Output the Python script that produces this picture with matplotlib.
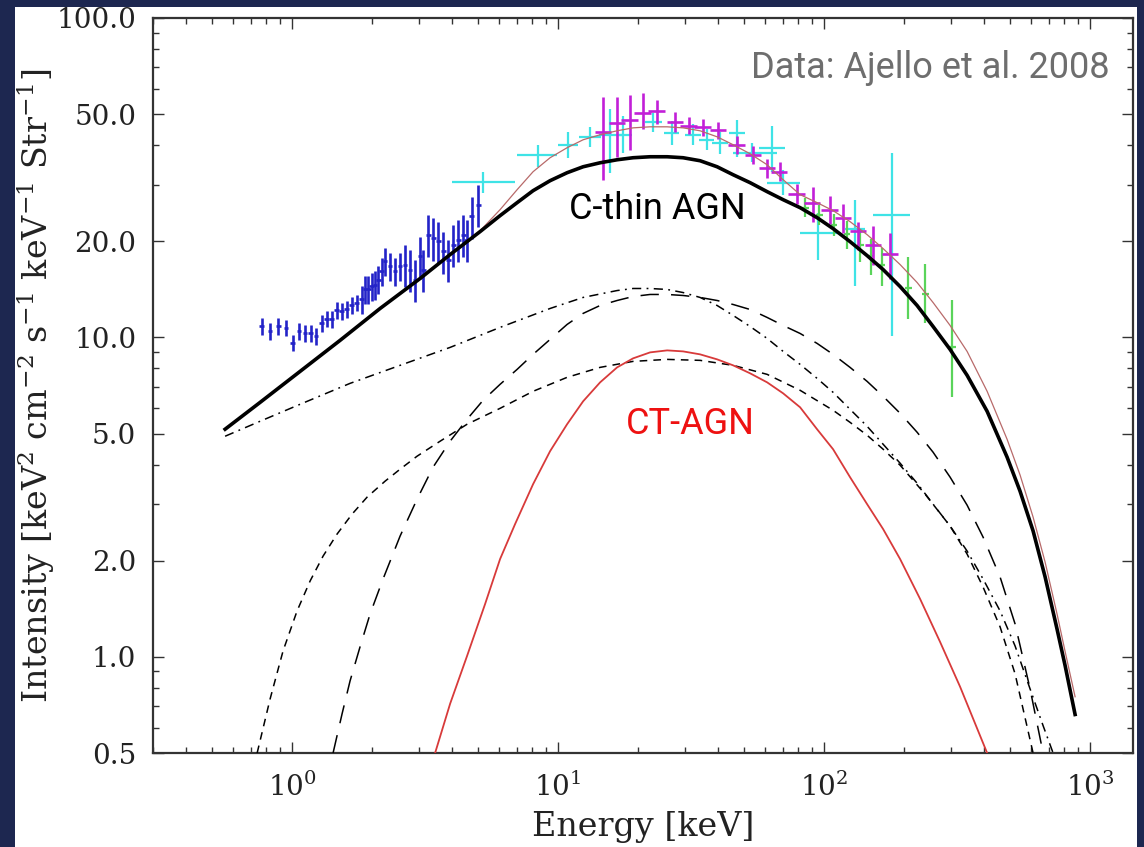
import matplotlib
matplotlib.use("Agg")
import matplotlib.pyplot as plt
from matplotlib.patches import Rectangle
from matplotlib.ticker import FixedLocator, LogLocator, FuncFormatter, NullFormatter

# ---- model curves (energy keV, intensity) ----
# total Compton-thin AGN (thick black)
tot_E = [0.560, 0.758, 1.072, 1.515, 2.142, 3.028, 3.927, 5.090, 6.053, 7.015, 8.054, 9.331, 10.81, 12.42, 14.39,
         16.67, 19.14, 22.18, 25.70, 29.51, 34.19, 39.61, 45.50, 52.71, 61.07, 70.15, 81.26, 94.13, 108.1, 125.2,
         145.1, 166.7, 193.1, 223.7, 256.9, 297.7, 344.9, 410.2, 487.5, 545.5, 610.5, 677.5, 751.6, 805.4, 878.3]
tot_I = [5.16, 6.26, 7.83, 9.79, 12.32, 15.29, 18.17, 21.44, 24.06, 26.42, 28.80, 30.95, 32.78, 34.22, 35.22,
         35.99, 36.52, 36.78, 36.78, 36.52, 35.74, 34.22, 32.31, 30.51, 28.60, 26.99, 25.48, 23.71, 21.91, 19.95,
         18.04, 16.31, 14.43, 12.59, 10.82, 9.17, 7.61, 5.87, 4.22, 3.30, 2.48, 1.78, 1.22, 0.94, 0.66]

# total model incl. CT-AGN (thin brown)
mod_E = [0.560, 1.072, 2.142, 3.927, 4.549, 5.224, 6.053, 7.015, 8.054, 9.331, 10.81, 12.42, 14.39, 16.67, 19.14,
         22.18, 25.70, 29.51, 34.19, 39.61, 45.50, 52.71, 61.07, 70.15, 81.26, 94.13, 108.1, 125.2, 145.1, 166.7,
         193.1, 223.7, 256.9, 297.7, 344.9, 410.2, 487.5, 545.5, 610.5, 677.5, 751.6, 805.4, 878.3]
mod_I = [5.16, 7.83, 12.32, 18.17, 19.81, 22.07, 25.12, 29.01, 33.02, 36.52, 39.25, 41.57, 43.10, 44.35, 45.30,
         45.64, 45.64, 45.30, 44.35, 42.47, 40.11, 37.58, 34.72, 31.17, 27.99, 26.42, 24.94, 23.04, 20.98, 18.97,
         16.91, 14.86, 12.86, 10.90, 9.04, 6.78, 4.80, 3.71, 2.74, 1.98, 1.36, 1.04, 0.75]

# dash-dot component
dd_E = [0.560, 0.758, 1.072, 1.652, 2.547, 3.927, 6.053, 9.331, 12.42, 16.67, 19.14, 22.18, 25.70, 29.51, 34.19,
        39.61, 45.50, 52.71, 61.07, 70.15, 81.26, 94.13, 108.1, 125.2, 145.1, 166.7, 193.1, 223.7, 256.9, 297.7,
        344.9, 396.0, 458.9, 522.4, 594.8, 665.8, 726.1]
dd_I = [4.905, 5.464, 6.176, 7.181, 8.177, 9.306, 10.75, 12.32, 13.34, 14.02, 14.23, 14.23, 14.13, 13.82, 13.34,
        12.59, 11.72, 10.82, 9.929, 9.042, 8.233, 7.444, 6.732, 5.957, 5.271, 4.631, 4.039, 3.497, 3.007, 2.567,
        2.144, 1.753, 1.392, 1.082, 0.794, 0.609, 0.5]

# long-dash component
ld_E = [1.426, 1.542, 1.652, 1.801, 1.965, 2.198, 2.547, 2.951, 3.389, 3.927, 4.549, 5.224, 6.053, 7.015, 8.054,
        9.331, 10.81, 12.42, 14.39, 16.67, 19.14, 22.18, 25.70, 29.51, 34.19, 39.61, 45.50, 52.71, 61.07, 70.15,
        81.26, 94.13, 108.1, 125.2, 145.1, 166.7, 193.1, 223.7, 256.9, 297.7, 344.9, 396.0, 458.9, 522.4, 594.8,
        665.8]
ld_I = [0.5, 0.664, 0.841, 1.075, 1.363, 1.753, 2.388, 3.117, 3.925, 4.732, 5.544, 6.355, 7.131, 7.943, 8.849,
        9.857, 10.98, 11.89, 12.59, 13.05, 13.43, 13.63, 13.63, 13.53, 13.34, 13.05, 12.68, 12.23, 11.55, 10.90,
        10.29, 9.578, 8.849, 8.058, 7.286, 6.541, 5.788, 5.049, 4.372, 3.652, 2.985, 2.371, 1.778, 1.268, 0.794,
        0.5]

# short-dash component
sd_E = [0.739, 0.827, 0.925, 1.044, 1.169, 1.308, 1.476, 1.681, 1.914, 2.237, 2.547, 2.951, 3.601, 4.549, 6.053,
        8.054, 10.81, 14.39, 19.14, 25.70, 34.19, 45.50, 61.07, 81.26, 108.1, 125.2, 145.1, 166.7, 193.1, 239.8,
        297.7, 344.9, 396.0, 458.9, 522.4, 610.5]
sd_I = [0.5, 0.739, 1.044, 1.392, 1.728, 2.068, 2.423, 2.798, 3.162, 3.548, 3.868, 4.248, 4.732, 5.348, 5.998,
        6.781, 7.499, 8.058, 8.414, 8.535, 8.476, 8.177, 7.663, 6.830, 5.915, 5.422, 4.941, 4.467, 3.981, 3.231,
        2.567, 2.098, 1.654, 1.241, 0.885, 0.5]

# Compton-thick AGN (red)
ct_E = [3.449, 3.927, 4.549, 5.317, 6.053, 6.892, 8.054, 9.331, 10.81, 12.42, 14.39, 16.67, 19.14, 22.18, 25.70,
        29.51, 34.19, 39.61, 45.50, 52.71, 61.07, 70.15, 81.26, 94.13, 108.1, 125.2, 145.1, 166.7, 193.1, 229.6,
        272.9, 324.6, 410.2]
ct_I = [0.5, 0.713, 1.007, 1.464, 2.024, 2.604, 3.472, 4.404, 5.348, 6.310, 7.234, 8.058, 8.599, 8.978, 9.108,
        9.042, 8.851, 8.538, 8.177, 7.720, 7.234, 6.683, 6.043, 5.158, 4.467, 3.652, 3.007, 2.512, 2.024, 1.518,
        1.114, 0.806, 0.5]

# ---- data points ----
blue_E = [0.769, 0.827, 0.888, 0.949, 1.006, 1.062, 1.119, 1.175, 1.231, 1.293, 1.350, 1.410, 1.472, 1.537, 1.605,
          1.676, 1.751, 1.828, 1.881, 1.936, 1.993, 2.051, 2.111, 2.174, 2.237, 2.336, 2.439, 2.547, 2.660, 2.777,
          2.900, 3.028, 3.117, 3.255, 3.399, 3.549, 3.706, 3.870, 4.041, 4.220, 4.407, 4.536, 4.737, 5.018]
blue_I = [10.85, 10.47, 10.85, 10.72, 9.62, 10.47, 10.29, 10.29, 10.10, 11.06, 11.44, 11.38, 12.17, 12.09, 12.23,
          12.59, 12.83, 13.15, 14.13, 14.13, 14.47, 14.64, 15.18, 16.12, 17.32, 16.71, 16.12, 16.71, 16.91, 16.31,
          15.18, 17.96, 16.31, 20.98, 20.49, 20.0, 18.61, 17.53, 19.53, 20.24, 20.98, 20.24, 23.94, 26.04]
blue_err = [0.65, 0.63, 0.65, 0.64, 0.58, 0.63, 0.62, 0.62, 0.61, 0.66, 0.69, 0.68, 0.73, 0.73, 0.73,
            0.76, 0.77, 1.3, 1.4, 1.4, 1.45, 1.5, 1.5, 1.6, 1.75, 1.7, 1.6, 1.7, 2.5, 2.45,
            2.3, 2.7, 2.45, 3.15, 3.1, 3.0, 2.8, 2.6, 2.9, 3.0, 3.15, 3.0, 3.6, 3.9]

cyan_E = [5.23, 8.41, 10.9, 13.2, 15.7, 17.5, 22.8, 26.8, 32.2, 36.3, 40.6, 47.1, 53.6, 63.7, 70.1, 94.9, 131, 180]
cyan_Elo = [4.0, 7.0, 10.0, 12.0, 14.2, 16.5, 21.2, 25.0, 30.0, 34.0, 38.0, 44.0, 45.5, 57.0, 61.0, 81.0, 120, 153]
cyan_Ehi = [6.9, 9.9, 11.9, 14.5, 17.5, 19.0, 24.5, 28.5, 34.5, 38.5, 43.5, 50.5, 66.5, 71.0, 81.0, 114, 143, 211]
cyan_I = [30.7, 37.3, 40.1, 42.5, 43.0, 43.0, 47.3, 43.7, 43.1, 41.6, 40.7, 43.7, 37.9, 39.2, 30.5, 21.3, 21.8, 24.2]
cyan_Ilo = [28.4, 34.2, 36.5, 39.5, 32.7, 37.9, 44.0, 40.0, 40.0, 38.5, 37.5, 36.8, 35.5, 33.0, 28.0, 17.5, 14.5, 10.1]
cyan_Ihi = [33.0, 40.1, 44.0, 45.5, 51.8, 49.2, 50.5, 47.5, 46.5, 45.0, 44.0, 48.0, 40.5, 46.0, 33.5, 24.5, 27.0, 37.9]

mag_E = [14.8, 16.7, 18.6, 20.8, 23.5, 27.5, 31, 35, 40, 47, 54, 61, 68, 79, 90.6, 105, 118, 134, 153, 177]
mag_I = [44, 47, 48, 50.5, 51, 47.3, 46, 45.5, 44.5, 40.1, 37.3, 33.8, 33, 28.2, 26.4, 25.1, 23.7, 21.5, 19.5, 18.2]
mag_Ilo = [31.2, 36.8, 38.6, 44.8, 46.5, 44.0, 43.2, 42.7, 41.8, 37.6, 35.0, 31.6, 30.8, 26.2, 22.9, 22.6, 21.3, 18.8, 16.8, 15.2]
mag_Ihi = [56.5, 56.5, 57.5, 58.3, 55.5, 50.8, 49.0, 48.4, 47.3, 42.7, 39.8, 36.1, 35.3, 30.3, 29.6, 27.7, 26.2, 22.9, 22.3, 21.3]

green_E = [85, 96, 109, 122, 137, 150, 165, 207, 240, 303]
green_I = [25.5, 24.2, 22.5, 21.0, 19.5, 18.0, 16.8, 14.3, 13.7, 9.3]
green_Ilo = [23.8, 22.5, 20.7, 18.9, 17.2, 15.7, 14.5, 11.4, 11.1, 6.5]
green_Ihi = [27.3, 25.9, 24.3, 23.1, 21.8, 20.3, 19.1, 17.9, 17.0, 13.1]

FIG_W, FIG_H, DPI = 11.44, 8.47, 100
plt.rcParams['font.family'] = ['DejaVu Serif']
plt.rcParams['mathtext.fontset'] = 'dejavuserif'

fig = plt.figure(figsize=(FIG_W, FIG_H), dpi=DPI)
fig.patch.set_facecolor('#1d2750')
fig.patches.append(Rectangle((15 / 1144, 0), 1122 / 1144, 840 / 847, transform=fig.transFigure,
                             facecolor='white', edgecolor='none', zorder=-10))

ax = fig.add_axes([153 / 1144, 1 - 753 / 847, 980 / 1144, 735 / 847])
ax.set_zorder(5)
ax.set_xscale('log')
ax.set_yscale('log')
ax.set_xlim(0.30, 1450)
ax.set_ylim(0.5, 100)


def errbar(E, I, lo, hi, xlo, xhi, color, lw):
    yerr = [[i - l for i, l in zip(I, lo)], [h - i for i, h in zip(I, hi)]]
    xerr = [[e - l for e, l in zip(E, xlo)], [h - e for e, h in zip(E, xhi)]]
    ax.errorbar(E, I, yerr=yerr, xerr=xerr, fmt='none', ecolor=color, elinewidth=lw, capsize=0, zorder=2)


errbar(blue_E, blue_I, [i - e for i, e in zip(blue_I, blue_err)], [i + e for i, e in zip(blue_I, blue_err)],
       [e * 0.98 for e in blue_E], [e * 1.02 for e in blue_E], '#2323c8', 1.9)
errbar(cyan_E, cyan_I, cyan_Ilo, cyan_Ihi, cyan_Elo, cyan_Ehi, '#3fe3e6', 1.6)
errbar(green_E, green_I, green_Ilo, green_Ihi, [e * 0.97 for e in green_E], [e * 1.03 for e in green_E],
       '#5ad45a', 1.6)
errbar(mag_E, mag_I, mag_Ilo, mag_Ihi, [e * 0.93 for e in mag_E], [e * 1.07 for e in mag_E], '#c21fd8', 1.9)

# model curves
ax.plot(dd_E, dd_I, color='black', lw=1.1, dashes=(6, 3.5, 1.2, 3.5), zorder=3)
ax.plot(ld_E, ld_I, color='black', lw=1.1, dashes=(12, 8), zorder=3)
ax.plot(sd_E, sd_I, color='black', lw=1.1, dashes=(5, 4), zorder=3)
ax.plot(ct_E, ct_I, color='#d83a3a', lw=1.3, zorder=3)
ax.plot(mod_E, mod_I, color='#b86a6a', lw=0.9, zorder=4)
ax.plot(tot_E, tot_I, color='black', lw=2.6, zorder=5, solid_joinstyle='round')

# ticks
ax.yaxis.set_major_locator(FixedLocator([0.5, 1, 2, 5, 10, 20, 50, 100]))
ax.yaxis.set_major_formatter(FuncFormatter(lambda v, p: f"{v:.1f}"))
ax.yaxis.set_minor_locator(LogLocator(base=10, subs=range(1, 10), numticks=20))
ax.yaxis.set_minor_formatter(NullFormatter())
ax.xaxis.set_major_locator(LogLocator(base=10, numticks=10))
ax.xaxis.set_minor_locator(LogLocator(base=10, subs=range(2, 10), numticks=20))
ax.xaxis.set_minor_formatter(NullFormatter())
ax.tick_params(which='both', direction='in', top=True, right=True, color='#333333', width=1)
ax.tick_params(which='major', length=8, labelsize=20, pad=12, labelcolor='#222222')
ax.tick_params(which='minor', length=4)
ax.tick_params(axis='x', which='major', pad=14)
for s in ax.spines.values():
    s.set_linewidth(1.6)
    s.set_color('#333333')

ax.set_xlabel('Energy [keV]', fontsize=24, color='#222222', labelpad=7)
ax.set_ylabel(r'Intensity [keV$^{2}$ cm$^{-2}$ s$^{-1}$ keV$^{-1}$ Str$^{-1}$]', fontsize=24,
              color='#222222')
ax.yaxis.set_label_coords(-0.098, 0.5)

ax.text(0.9765, 0.918, 'Data: Ajello et al. 2008', transform=ax.transAxes, ha='right', va='baseline',
        fontsize=26, color='#6e6e6e', family='Roboto')
ax.text(23.6, 23.4, 'C-thin AGN', ha='center', va='baseline', fontsize=26, color='black', family='Roboto',
        zorder=6)
ax.text(31.4, 4.98, 'CT-AGN', ha='center', va='baseline', fontsize=26, color='#ee1111', family='Roboto',
        zorder=6)

fig.savefig('out.png', dpi=DPI, facecolor=fig.get_facecolor())
